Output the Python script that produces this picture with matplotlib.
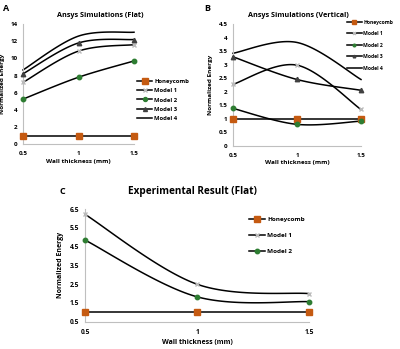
import numpy as np
import matplotlib
matplotlib.use("Agg")
import matplotlib.pyplot as plt
from matplotlib.lines import Line2D

plt.rcParams['font.family'] = ['Open Sans', 'DejaVu Sans']
plt.rcParams['font.weight'] = 'bold'

x = [0.5, 1.0, 1.5]

# Panel A: Ansys Simulations (Flat)
a_honeycomb = [1.0, 1.0, 1.0]
a_model1 = [7.2, 10.85, 11.6]
a_model2 = [5.25, 7.8, 9.7]
a_model3 = [8.2, 11.8, 12.2]
a_model4 = [8.65, 12.6, 13.05]

# Panel B: Ansys Simulations (Vertical)
b_honeycomb = [1.0, 1.0, 1.0]
b_model1 = [2.27, 2.98, 1.34]
b_model2 = [1.38, 0.79, 0.91]
b_model3 = [3.29, 2.45, 2.05]
b_model4 = [3.42, 3.82, 2.45]

# Panel C: Experimental Result (Flat)
c_honeycomb = [1.0, 1.0, 1.0]
c_model1 = [6.22, 2.5, 2.0]
c_model2 = [4.85, 1.83, 1.57]

xticks = [0.5, 1, 1.5]
xticklabels = ['0.5', '1', '1.5']

HC = '#C55A11'
GREEN = '#2E7D32'
styles = {
    'Honeycomb': dict(marker='s', mfc=HC, mec=HC, ms=4.5),
    'Model 1': dict(marker='x', mfc='#BBBBBB', mec='#BBBBBB', ms=3.5),
    'Model 2': dict(marker='o', mfc=GREEN, mec=GREEN, ms=3.2),
    'Model 3': dict(marker='^', mfc='#404040', mec='#404040', ms=3.2),
    'Model 4': dict(marker='None'),
}


def smooth(xs, ys, n=40):
    xs = np.asarray(xs, float); ys = np.asarray(ys, float)
    px = np.concatenate([[xs[0]], xs, [xs[-1]]])
    py = np.concatenate([[ys[0]], ys, [ys[-1]]])
    ox, oy = [], []
    t = np.linspace(0, 1, n)
    for i in range(1, len(px) - 2):
        p0 = np.array([px[i], py[i]]); p3 = np.array([px[i + 1], py[i + 1]])
        p1 = p0 + (np.array([px[i + 1], py[i + 1]]) - np.array([px[i - 1], py[i - 1]])) / 6
        p2 = p3 - (np.array([px[i + 2], py[i + 2]]) - np.array([px[i], py[i]])) / 6
        b = ((1 - t) ** 3)[:, None] * p0 + (3 * (1 - t) ** 2 * t)[:, None] * p1 + \
            (3 * (1 - t) * t ** 2)[:, None] * p2 + (t ** 3)[:, None] * p3
        ox.extend(b[:, 0]); oy.extend(b[:, 1])
    return ox, oy


def panel(ax, series, ylim, yticks, tfs, lfs, leg_pos, leg_fs, leg_len, leg_gap, xpad, leg_ms):
    for name, ys in series:
        st = styles[name]
        sx, sy = smooth(x, ys)
        ax.plot(sx, sy, color='black', lw=1.1, zorder=2, clip_on=False)
        ax.plot(x, ys, linestyle='None', zorder=3, clip_on=False, **st)
    ax.set_xlim(0.5, 1.5)
    ax.set_ylim(*ylim)
    ax.set_yticks(yticks)
    ax.set_yticklabels([('%g' % v) for v in yticks])
    ax.set_xticks(xticks)
    ax.set_xticklabels(xticklabels)
    for s in ['top', 'right']:
        ax.spines[s].set_visible(False)
    for s in ['left', 'bottom']:
        ax.spines[s].set_color('#BFBFBF')
        ax.spines[s].set_linewidth(0.8)
    ax.tick_params(axis='both', length=0, labelsize=tfs, pad=4)
    ax.tick_params(axis='x', pad=xpad)
    ax.set_xlabel('Wall thickness (mm)', fontsize=lfs, fontweight='bold', labelpad=2)
    ax.set_ylabel('Normalized Energy', fontsize=lfs, fontweight='bold', labelpad=4)
    handles = []
    for n, _ in series:
        st = dict(styles[n])
        if 'ms' in st:
            st['ms'] = st['ms'] * leg_ms
        handles.append(Line2D([0], [0], color='black', lw=1.1, **st))
    ax.legend(handles, [n for n, _ in series], loc='upper left', bbox_to_anchor=leg_pos,
              bbox_transform=ax.figure.transFigure, frameon=False,
              handlelength=leg_len, handletextpad=0.3, labelspacing=leg_gap, borderpad=0,
              borderaxespad=0, prop={'weight': 'bold', 'size': leg_fs})
    return ax


fig = plt.figure(figsize=(4.0, 3.49), dpi=100)

axA = fig.add_axes([0.0575, 0.587, 0.2775, 0.344])
panel(axA, [('Honeycomb', a_honeycomb), ('Model 1', a_model1), ('Model 2', a_model2),
            ('Model 3', a_model3), ('Model 4', a_model4)],
      (0, 14), [0, 2, 4, 6, 8, 10, 12, 14], 4.5, 4.6, (0.343, 0.774), 4.2, 2.6, 0.72, 5, 0.9)
fig.text(0.25, 0.957, 'Ansys Simulations (Flat)', ha='center', va='center', fontsize=5.2, fontweight='bold')
fig.text(0.008, 0.975, 'A', ha='left', va='center', fontsize=6.5, fontweight='bold')

axB = fig.add_axes([0.5825, 0.5825, 0.32, 0.3485])
panel(axB, [('Honeycomb', b_honeycomb), ('Model 1', b_model1), ('Model 2', b_model2),
            ('Model 3', b_model3), ('Model 4', b_model4)],
      (0, 4.5), [0, 0.5, 1, 1.5, 2, 2.5, 3, 3.5, 4, 4.5], 4.5, 4.6, (0.867, 0.944), 3.6, 3.0, 1.3, 5, 0.6)
fig.text(0.745, 0.957, 'Ansys Simulations (Vertical)', ha='center', va='center', fontsize=5.2, fontweight='bold')
fig.text(0.51, 0.975, 'B', ha='left', va='center', fontsize=6.5, fontweight='bold')

axC = fig.add_axes([0.2125, 0.078, 0.56, 0.323])
panel(axC, [('Honeycomb', c_honeycomb), ('Model 1', c_model1), ('Model 2', c_model2)],
      (0.5, 6.5), [0.5, 1.5, 2.5, 3.5, 4.5, 5.5, 6.5], 4.8, 5.0, (0.622, 0.38), 4.6, 2.6, 1.65, 5, 1.0)
fig.text(0.48, 0.45, 'Experimental Result (Flat)', ha='center', va='center', fontsize=7.2, fontweight='bold')
fig.text(0.148, 0.45, 'C', ha='left', va='center', fontsize=6.5, fontweight='bold')

fig.savefig('out.png', dpi=100)
